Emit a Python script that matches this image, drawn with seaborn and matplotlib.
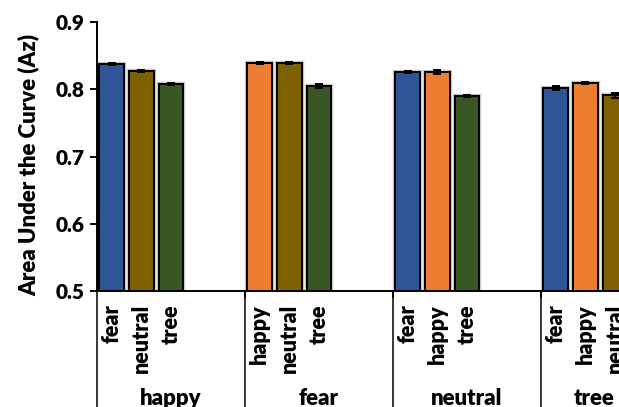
import matplotlib
matplotlib.use("Agg")
import matplotlib.pyplot as plt
import matplotlib.patheffects as pe
import matplotlib.transforms as mtransforms
import numpy as np
import pandas as pd
import seaborn as sns

# Target emotion groups and the distractor categories compared within each
groups = ["happy", "fear", "neutral", "tree"]
distractors = [
    ["fear", "neutral", "tree"],
    ["happy", "neutral", "tree"],
    ["fear", "happy", "tree"],
    ["fear", "happy", "neutral"],
]
az_mean = [
    [0.837, 0.827, 0.808],
    [0.839, 0.839, 0.805],
    [0.826, 0.826, 0.790],
    [0.802, 0.809, 0.791],
]
az_sem = [
    [0.0015, 0.0012, 0.0015],
    [0.0015, 0.0015, 0.0025],
    [0.0015, 0.0028, 0.0015],
    [0.0030, 0.0015, 0.0040],
]
yticks = [0.5, 0.6, 0.7, 0.8, 0.9]

palette = {
    "fear": "#2F5597",
    "happy": "#ED7D31",
    "neutral": "#7F6000",
    "tree": "#375623",
}

SLOTS = 5  # bar slots per group (three used, two left empty)
rows = []
for g, (grp, subs, means, sems) in enumerate(zip(groups, distractors, az_mean, az_sem)):
    for i, (s, m, e) in enumerate(zip(subs, means, sems)):
        rows.append({"group": grp, "cond": s, "pos": g * SLOTS + i + 0.5, "az": m, "sem": e})
df = pd.DataFrame(rows)

sns.set_theme(style="white")
plt.rcParams["font.family"] = ["Lato", "DejaVu Sans"]
plt.rcParams["font.weight"] = "heavy"
FS = 16
FS_SUB = 15.5
FS_TICK = 15
WEIGHT = "heavy"

fig = plt.figure(figsize=(6.19, 4.07), dpi=100)
ax = fig.add_axes([97 / 619, 1 - 291 / 407, 1 - 97 / 619, (291 - 22) / 407])

sns.barplot(
    data=df, x="pos", y="az", hue="cond", palette=palette, native_scale=True,
    dodge=False, width=0.84, orient="x", errorbar=None, legend=False, ax=ax,
    edgecolor="black", linewidth=1.4, saturation=1,
)
for bar in ax.patches:
    bar.set_path_effects([pe.withStroke(linewidth=3.2, foreground="#c8c8c8"), pe.Normal()])

ax.errorbar(df["pos"], df["az"], yerr=df["sem"], fmt="none", ecolor="black",
            elinewidth=1.4, capsize=2.6, capthick=1.4, zorder=5)

xmax = (619 - 97) / 29.6
ax.set_xlim(0, xmax)
ax.set_ylim(0.5, 0.9)
ax.set_yticks(yticks)
ax.set_yticklabels([f"{t:.1f}" for t in yticks], fontsize=FS_TICK, fontweight=WEIGHT, color="black")
ax.set_xticks([])
ax.set_xlabel("")
ax.set_ylabel("Area Under the Curve (Az)", fontsize=FS, fontweight=WEIGHT, color="black")
ax.yaxis.set_label_coords(-57 / 522, 0.47)

for side in ["top", "right"]:
    ax.spines[side].set_visible(False)
for side in ["left", "bottom"]:
    ax.spines[side].set_color("black")
    ax.spines[side].set_linewidth(1.4)
ax.tick_params(axis="y", direction="out", length=5, width=1.4, color="black", pad=4, left=True)

# Multi-level category axis below the plot
trans = mtransforms.blended_transform_factory(ax.transData, ax.transAxes)
axes_h = 291 - 22
for g in range(len(groups)):
    x0 = g * SLOTS
    ax.plot([x0, x0], [0, -130 / axes_h], color="black", lw=1.1, transform=trans, clip_on=False)
    if g > 0:
        ax.plot([x0, x0], [0, -6 / axes_h], color="black", lw=1.4, transform=trans, clip_on=False)
for _, r in df.iterrows():
    ax.text(r["pos"], -13 / axes_h, r["cond"], rotation=90, ha="center", va="top",
            fontsize=FS_SUB, fontweight=WEIGHT, color="black", transform=trans, clip_on=False)

# Group names centred on the visible span of each group
visible_end = min(xmax, len(groups) * SLOTS)
for g, grp in enumerate(groups):
    x_lo = g * SLOTS
    x_hi = min((g + 1) * SLOTS, visible_end + 0.95)
    ax.text((x_lo + x_hi) / 2, -97 / axes_h, grp, ha="center", va="top",
            fontsize=FS, fontweight=WEIGHT, color="black", transform=trans, clip_on=False)

fig.savefig("out.png", dpi=100)
